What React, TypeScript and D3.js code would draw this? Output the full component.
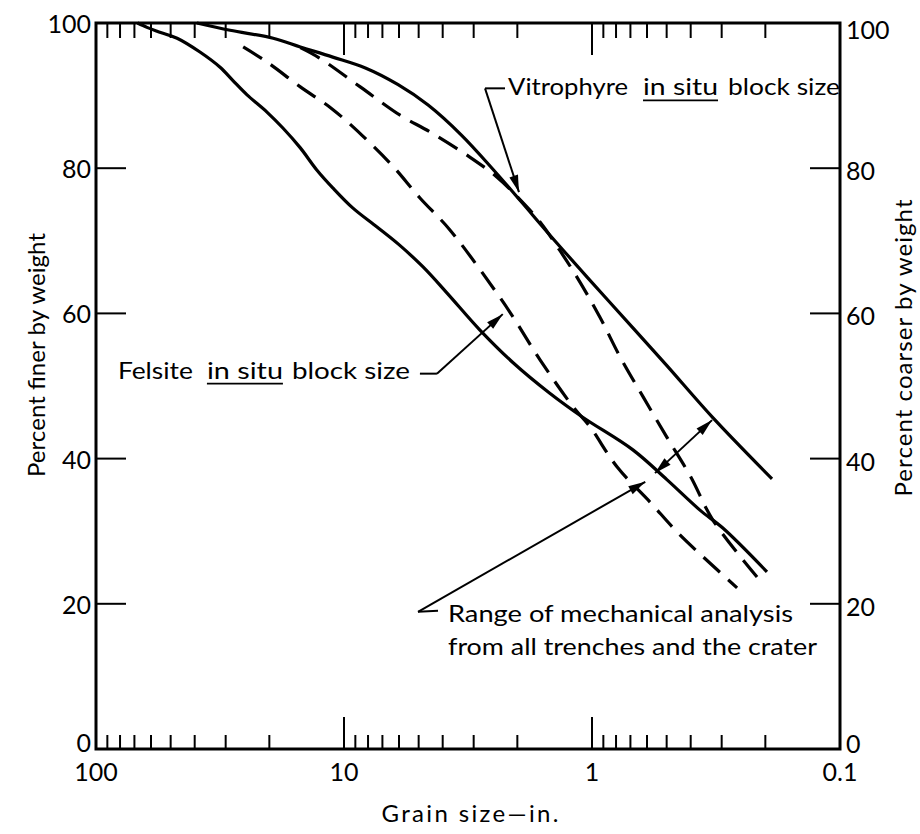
import React, { useEffect, useRef } from 'react';
import * as d3 from 'd3';

// Grain size (in.) and percent finer by weight
const rangeLowerSize = [68, 62.3, 57.1, 47.1, 38.1, 31.6, 28.1, 24.6, 20.4, 17.6, 15.0, 12.9, 11.1, 9.2, 7.36, 5.97, 4.8, 3.84, 2.83, 2.08, 1.48, 1.09, 0.684, 0.499, 0.367, 0.296, 0.197];
const rangeLowerPct = [100, 99.4, 98.9, 97.9, 96.0, 93.9, 92.1, 90.1, 87.7, 85.5, 82.8, 79.8, 77.3, 74.5, 71.9, 69.4, 66.4, 62.8, 57.7, 53.2, 49.0, 45.7, 41.2, 37.1, 32.9, 30.4, 24.4];

const rangeUpperSize = [39.2, 28.8, 19.3, 15.0, 11.1, 8.2, 6.05, 4.58, 3.37, 2.53, 1.92, 1.48, 1.04, 0.684, 0.499, 0.325, 0.188];
const rangeUpperPct = [100, 99.0, 97.9, 96.7, 95.3, 93.8, 91.5, 88.7, 84.6, 80.0, 75.3, 70.8, 64.9, 58.0, 52.8, 45.6, 37.2];

const felsiteSize = [25.5, 20.4, 15.0, 11.2, 8.5, 6.4, 4.94, 3.74, 2.42, 2.08, 1.62, 1.19, 1.02, 0.79, 0.583, 0.442, 0.26];
const felsitePct = [96.7, 94.6, 91.2, 88.2, 84.6, 80.4, 75.9, 71.5, 62.8, 59.5, 53.6, 47.1, 44.4, 38.8, 34.0, 29.5, 22.2];

const vitrophyreSize = [15.0, 12.6, 8.6, 5.94, 4.5, 3.1, 2.42, 1.98, 1.62, 1.35, 1.15, 0.93, 0.77, 0.622, 0.5, 0.4, 0.325, 0.216];
const vitrophyrePct = [96.6, 95.2, 91.2, 87.3, 85.0, 81.5, 78.8, 75.9, 72.6, 68.7, 65.0, 59.5, 54.0, 48.5, 43.0, 37.5, 31.5, 23.7];

const xTickLabels = [100, 10, 1, 0.1];
const xMajorTicks = [10, 1];
const xMinorTicks = [100, 10, 1].flatMap(dec => [0.9, 0.8, 0.7, 0.6, 0.5, 0.4, 0.3, 0.2].map(m => +(m * dec).toPrecision(2)));
const yTickLabels = [0, 20, 40, 60, 80, 100];
const yInnerTicks = [20, 40, 60, 80];

// arrow anchors in data units [size, percent]
const vitroElbow: [number, number] = [2.70, 91.0];
const vitroTip: [number, number] = [1.97, 76.7];
const felsiteElbow: [number, number] = [4.22, 51.7];
const felsiteTip: [number, number] = [2.29, 59.9];
const rangeElbow: [number, number] = [5.03, 18.9];
const rangeTip: [number, number] = [0.61, 36.8];
const spanUpper: [number, number] = [0.328, 45.3];
const spanLower: [number, number] = [0.557, 38.0];

const FONT = 'Lato, "Liberation Sans", sans-serif';

const App: React.FC = () => {
  const svgRef = useRef<SVGSVGElement>(null);

  useEffect(() => {
    if (!svgRef.current) return;
    const svg = d3.select(svgRef.current);
    svg.selectAll('*').remove();

    const left = 96, right = 840, top = 23, bottom = 749;
    const x = d3.scaleLog().domain([100, 0.1]).range([left, right]);
    const y = d3.scaleLinear().domain([0, 100]).range([bottom, top]);

    const g = svg.append('g').attr('font-family', FONT).attr('fill', '#000');

    // frame
    g.append('rect').attr('x', left).attr('y', top).attr('width', right - left).attr('height', bottom - top)
      .attr('fill', 'none').attr('stroke', '#000').attr('stroke-width', 3);

    // x ticks, top (pointing down) and bottom (pointing up)
    const xt = g.append('g').attr('stroke', '#000').attr('stroke-width', 2);
    xMinorTicks.filter(v => v < 100 && v > 0.1).forEach(v => {
      xt.append('line').attr('x1', x(v)).attr('x2', x(v)).attr('y1', top).attr('y2', top + 15);
      xt.append('line').attr('x1', x(v)).attr('x2', x(v)).attr('y1', bottom).attr('y2', bottom - 14);
    });
    xMajorTicks.forEach(v => {
      xt.append('line').attr('x1', x(v)).attr('x2', x(v)).attr('y1', top).attr('y2', top + 32);
      xt.append('line').attr('x1', x(v)).attr('x2', x(v)).attr('y1', bottom).attr('y2', bottom - 32);
    });

    // y ticks, both sides pointing in
    yInnerTicks.forEach(v => {
      xt.append('line').attr('x1', left).attr('x2', left + 30).attr('y1', y(v)).attr('y2', y(v));
      xt.append('line').attr('x1', right).attr('x2', right - 30).attr('y1', y(v)).attr('y2', y(v));
    });

    // tick labels
    xTickLabels.forEach(v => {
      g.append('text').attr('x', x(v)).attr('y', 781).attr('text-anchor', 'middle')
        .attr('font-size', 25).text(String(v));
    });
    yTickLabels.forEach(v => {
      g.append('text').attr('x', left - 5).attr('y', y(v) + (v === 0 ? -7 : 0))
        .attr('text-anchor', 'end').attr('dominant-baseline', 'central').attr('font-size', 25).text(String(v));
      g.append('text').attr('x', right + 6).attr('y', y(v) + (v === 100 ? 6 : v === 0 ? -6 : 2))
        .attr('text-anchor', 'start').attr('dominant-baseline', 'central').attr('font-size', 25).text(String(v));
    });

    // axis titles
    g.append('text').attr('x', 470).attr('y', 822).attr('text-anchor', 'middle').attr('font-size', 24)
      .attr('textLength', 177).text('Grain size\u2014in.');
    g.append('text').attr('transform', 'translate(45,355) rotate(-90)').attr('text-anchor', 'middle')
      .attr('font-size', 24).attr('textLength', 244).text('Percent finer by weight');
    g.append('text').attr('transform', 'translate(912,348) rotate(-90)').attr('text-anchor', 'middle')
      .attr('font-size', 24).attr('textLength', 297).text('Percent coarser by weight');

    // curves
    const line = d3.line<[number, number]>()
      .x(d => x(d[0])).y(d => y(d[1]))
      .curve(d3.curveCatmullRom.alpha(0.5));
    const series = [
      { size: rangeLowerSize, pct: rangeLowerPct, dashed: false },
      { size: rangeUpperSize, pct: rangeUpperPct, dashed: false },
      { size: felsiteSize, pct: felsitePct, dashed: true },
      { size: vitrophyreSize, pct: vitrophyrePct, dashed: true },
    ];
    series.forEach(s => {
      const pts = s.size.map((v, i) => [v, s.pct[i]] as [number, number]);
      g.append('path').attr('d', line(pts) as string).attr('fill', 'none').attr('stroke', '#000')
        .attr('stroke-width', 3.2).attr('stroke-dasharray', s.dashed ? '22,11' : null);
    });

    // arrows
    const head = (x1: number, y1: number, x2: number, y2: number) => {
      const a = Math.atan2(y2 - y1, x2 - x1);
      const L = 17, W = 4.5;
      const bx = x2 - L * Math.cos(a), by = y2 - L * Math.sin(a);
      g.append('path')
        .attr('d', `M${x2},${y2}L${bx + W * Math.sin(a)},${by - W * Math.cos(a)}L${bx - W * Math.sin(a)},${by + W * Math.cos(a)}Z`)
        .attr('fill', '#000');
    };
    const seg = (x1: number, y1: number, x2: number, y2: number) =>
      g.append('line').attr('x1', x1).attr('y1', y1).attr('x2', x2).attr('y2', y2)
        .attr('stroke', '#000').attr('stroke-width', 2);

    // Vitrophyre label
    const ve = [x(vitroElbow[0]), y(vitroElbow[1])];
    const vt = [x(vitroTip[0]), y(vitroTip[1])];
    seg(ve[0], ve[1], ve[0] + 20, ve[1]);
    seg(ve[0], ve[1], vt[0], vt[1]);
    head(ve[0], ve[1], vt[0], vt[1]);

    // Felsite label
    const fe = [x(felsiteElbow[0]), y(felsiteElbow[1])];
    const ft = [x(felsiteTip[0]), y(felsiteTip[1])];
    seg(fe[0] - 17, fe[1], fe[0], fe[1]);
    seg(fe[0], fe[1], ft[0], ft[1]);
    head(fe[0], fe[1], ft[0], ft[1]);

    // Range label
    const re = [x(rangeElbow[0]), y(rangeElbow[1])];
    const rt = [x(rangeTip[0]), y(rangeTip[1])];
    seg(re[0], re[1], re[0] + 20, re[1] - 1);
    seg(re[0], re[1], rt[0], rt[1]);
    head(re[0], re[1], rt[0], rt[1]);

    // double arrow across the range band
    const su = [x(spanUpper[0]), y(spanUpper[1])];
    const sl = [x(spanLower[0]), y(spanLower[1])];
    seg(su[0], su[1], sl[0], sl[1]);
    head(sl[0], sl[1], su[0], su[1]);
    head(su[0], su[1], sl[0], sl[1]);

    // label pieces: [text, dx, width, underline]
    const piece = (ox: number, oy: number, parts: [string, number, number, boolean][]) => {
      parts.forEach(([t, dx, w, u]) => {
        g.append('text').attr('x', ox + dx).attr('y', oy).attr('font-size', 23)
          .attr('textLength', w).attr('lengthAdjust', 'spacingAndGlyphs').text(t);
        if (u) seg(ox + dx, oy + 5, ox + dx + w, oy + 5).attr('stroke-width', 1.6);
      });
    };
    piece(ve[0], ve[1] + 7, [['Vitrophyre', 23, 120, false], ['in situ', 158, 75, true], ['block size', 243, 112, false]]);
    piece(fe[0], fe[1] + 5, [['Felsite', -319, 75, false], ['in situ', -230, 76, true], ['block size', -145, 118, false]]);
    g.append('text').attr('x', re[0] + 30).attr('y', re[1] + 10).attr('font-size', 23)
      .attr('textLength', 345).attr('lengthAdjust', 'spacingAndGlyphs').text('Range of mechanical analysis');
    g.append('text').attr('x', re[0] + 30).attr('y', re[1] + 43).attr('font-size', 23)
      .attr('textLength', 369).attr('lengthAdjust', 'spacingAndGlyphs').text('from all trenches and the crater');
  }, []);

  return (
    <div style={{ position: 'absolute', left: 0, top: 0, width: 920, height: 834, background: '#fff' }}>
      <svg ref={svgRef} width={920} height={834}></svg>
    </div>
  );
};

export default App;
